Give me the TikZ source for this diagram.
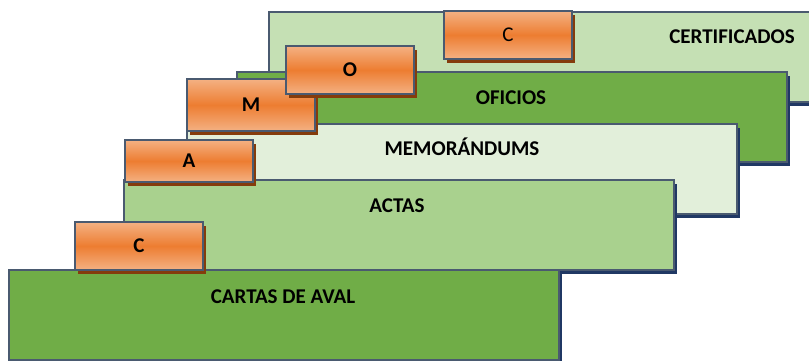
\documentclass[tikz,border=0pt]{standalone}
\usepackage{fontspec}
\setmainfont{Carlito}
\usetikzlibrary{shadows}

\definecolor{edgeslate}{HTML}{4A5A70}
\definecolor{navyshadow}{HTML}{203864}
\definecolor{brownshadow}{HTML}{843C0C}
\definecolor{greendark}{HTML}{70AD47}
\definecolor{greenmid}{HTML}{A9D18E}
\definecolor{greenlight}{HTML}{C5E0B4}
\definecolor{greenpale}{HTML}{E2EFDA}
\definecolor{tabmid}{HTML}{ED7D31}
\definecolor{tabedge}{HTML}{F4B183}

\tikzset{
  docbox/.style = {draw = edgeslate, line width = 2pt, anchor = north west,
    minimum width = 550pt, minimum height = 90pt, inner sep = 0pt,
    drop shadow = {fill = navyshadow, opacity = 1, shadow xshift = 3pt, shadow yshift = -4pt}},
  tabbox/.style = {draw = edgeslate, line width = 2pt, anchor = north west,
    minimum width = 128pt, minimum height = 48pt, inner sep = 0pt,
    top color = tabedge, bottom color = tabedge, middle color = tabmid,
    drop shadow = {fill = brownshadow, opacity = 1, shadow xshift = 3pt, shadow yshift = -4pt}},
  doctext/.style = {anchor = base}
}

\begin{document}
\begin{tikzpicture}[x = 1pt, y = -1pt, font = \fontsize{21}{25}\selectfont\bfseries]
        \clip (0,0) rectangle (809,360);

        \node[docbox, fill = greenlight] (cert) at (268,11) {};
        \node[tabbox, font = \fontsize{21}{25}\selectfont] (certtab) at (443,10) {C};
        \node[doctext] (certlab) at (732,43) {CERTIFICADOS};

        \node[docbox, fill = greendark] (ofi) at (236,71) {};
        \node[doctext] (ofilab) at (511,104) {OFICIOS};

        \node[docbox, fill = greenpale] (memo) at (186,123) {};
        \node[doctext] (memolab) at (462,155) {MEMORÁNDUMS};

        \node[docbox, fill = greenmid] (actas) at (123,179) {};
        \node[doctext] (actaslab) at (397,212) {ACTAS};

        \node[docbox, fill = greendark] (cartas) at (8,269) {};
        \node[doctext] (cartaslab) at (283,303) {CARTAS DE AVAL};

        \node[tabbox] (cartastab) at (74,221) {C};
        \node[tabbox, minimum height = 42pt] (actastab) at (124,139) {A};
        \node[tabbox, minimum height = 52pt] (memotab) at (186,78) {M};
        \node[tabbox] (ofitab) at (285,45) {O};
    \end{tikzpicture}
\end{document}
